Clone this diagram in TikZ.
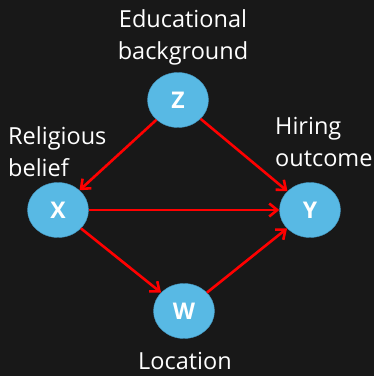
\documentclass[tikz,border=0pt]{standalone}
\usepackage{fontspec}
\setmainfont{Open Sans}
\usepackage{tikz}
\usetikzlibrary{arrows.meta,shapes.geometric}
\definecolor{board}{RGB}{24,24,24}
\definecolor{varblue}{RGB}{88,185,228}
\definecolor{varedge}{RGB}{70,150,190}
\tikzset{
	var/.style={draw=varedge,fill=varblue,ellipse,minimum width=61pt,minimum height=55pt,inner sep=0pt,text=white,font=\fontsize{23}{23}\selectfont\bfseries},
	lab/.style={text=white,align=center,inner sep=0pt,font=\fontsize{23.5}{32}\selectfont},
	every new ->/.style={shorten >=1pt},
	causes/.style={draw=red,line width=2.6pt,-{Straight Barb[length=8pt,width=13pt]}}
}

\begin{document}
\begin{tikzpicture}[x=1pt,y=1pt]
            \fill[board] (0,0) rectangle (374,376);
            \useasboundingbox (0,0) rectangle (374,376);
            \node[var] (z) at (178, 276) {Z};
            \node[var] (x) at (58, 166) {X};
            \node[var] (y) at (310, 166) {Y};
            \node[var] (w) at (184, 65) {W};
            \node[lab] (zl) at (183, 339) {Educational\\background};
            \node[lab,align=left,anchor=west] (xl) at (8, 224) {Religious\\belief};
            \node[lab,align=left,anchor=west] (yl) at (275, 234) {Hiring\\outcome};
            \node[lab,anchor=base] (wl) at (185, 6) {Location};
            \draw[causes] (z) -- (x);
            \draw[causes] (z) -- (y);
            \draw[causes] (x) -- (y);
            \draw[causes] (x) -- (w);
            \draw[causes] (w) -- (y);
        \end{tikzpicture}
\end{document}
